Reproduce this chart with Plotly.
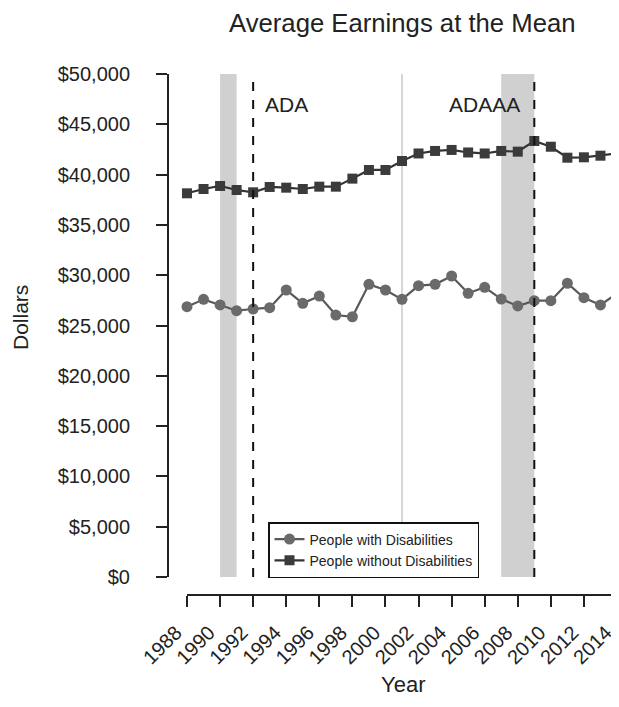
import plotly.graph_objects as go

years = list(range(1988, 2015))
with_dis = [26870, 27600, 27040, 26470, 26640, 26770, 28530, 27200, 27930, 26040,
            25870, 29090, 28530, 27600, 28960, 29090, 29920, 28200, 28800, 27630,
            26940, 27470, 27470, 29200, 27760, 27040, 28200]
without_dis = [38140, 38570, 38870, 38470, 38240, 38770, 38700, 38570, 38800, 38800,
               39600, 40460, 40460, 41350, 42100, 42350, 42450, 42200, 42100, 42350,
               42280, 43340, 42770, 41680, 41720, 41880, 42100]
recessions = [(1990, 1991), (2007, 2009)]
law_years = [1992, 2009]
law_labels = ["ADA", "ADAAA"]
law_label_x = [1994, 2006]
break_year = 2001
y_ticks = list(range(0, 50001, 5000))
y_tick_text = ["$" + format(v, ",") for v in y_ticks]
x_ticks = list(range(1988, 2015, 2))

FONT = "Liberation Sans, Arial, Helvetica, sans-serif"
TXT = "#222222"

# page offset of the figure (body margin)
OFF = 8
L, T = 168 - OFF, 54 - OFF          # plot area left/top in figure coords
B = 595 - OFF                        # plot area bottom in figure coords
W, H = 619, 707
PW, PH = W - L, B - T

def px(xp):  # page x -> paper x
    return (xp - OFF - L) / PW

def py(yp):  # page y -> paper y
    return (B - (yp - OFF)) / PH

fig = go.Figure()
fig.add_trace(go.Scatter(
    x=years, y=with_dis, mode="lines+markers", name="People with Disabilities",
    line=dict(color="#595959", width=2.2),
    marker=dict(symbol="circle", size=11, color="#6a6a6a")))
fig.add_trace(go.Scatter(
    x=years, y=without_dis, mode="lines+markers", name="People without Disabilities",
    line=dict(color="#333333", width=2.2),
    marker=dict(symbol="square", size=10, color="#3b3b3b")))

shapes = []
for a, b in recessions:
    shapes.append(dict(type="rect", xref="x", yref="y", x0=a, x1=b, y0=0, y1=50000,
                       fillcolor="#d0d0d0", line=dict(width=0), layer="below"))
shapes.append(dict(type="line", xref="x", yref="y", x0=break_year, x1=break_year,
                   y0=0, y1=50000, line=dict(color="#c8c8c8", width=1.5), layer="below"))
for ly in law_years:
    shapes.append(dict(type="line", xref="x", yref="y", x0=ly, x1=ly, y0=0, y1=50000,
                       line=dict(color="#111111", width=2, dash="dash"), layer="above"))
# R-style detached axis lines
shapes.append(dict(type="line", xref="paper", yref="y", x0=0, x1=0, y0=0, y1=50000,
                   line=dict(color="#222222", width=2)))
shapes.append(dict(type="line", xref="x", yref="paper", x0=1988, x1=2014, y0=0, y1=0,
                   line=dict(color="#222222", width=2)))

annotations = []
for lab, lx in zip(law_labels, law_label_x):
    annotations.append(dict(x=lx, y=47000, xref="x", yref="y", text=lab, showarrow=False,
                            xanchor="center", yanchor="middle",
                            font=dict(family=FONT, size=21, color=TXT)))
annotations.append(dict(x=px(20), y=py(318), xref="paper", yref="paper",
                        text="Dollars", textangle=-90, showarrow=False,
                        xanchor="center", yanchor="middle",
                        font=dict(family=FONT, size=21, color=TXT)))
annotations.append(dict(x=px(403), y=py(684), xref="paper", yref="paper",
                        text="Year", showarrow=False, xanchor="center", yanchor="middle",
                        font=dict(family=FONT, size=22, color=TXT)))
annotations.append(dict(x=px(402), y=py(23), xref="paper", yref="paper",
                        text="Average Earnings at the Mean", showarrow=False,
                        xanchor="center", yanchor="middle",
                        font=dict(family=FONT, size=25.7, color=TXT)))

fig.update_layout(
    width=W, height=H,
    margin=dict(l=L, r=0, t=T, b=H - B, autoexpand=False),
    plot_bgcolor="white", paper_bgcolor="white",
    showlegend=True,
    legend=dict(x=px(268), y=py(578), xanchor="left", yanchor="bottom",
                bordercolor="#111111", borderwidth=1.5, bgcolor="white",
                font=dict(family=FONT, size=14, color=TXT),
                itemwidth=30, tracegroupgap=0),
    shapes=shapes, annotations=annotations,
    font=dict(family=FONT, color=TXT),
)
px_per_year = (617 - 187) / 26
x_left = 1988 - (187 - 168) / px_per_year
x_right = x_left + PW / px_per_year
px_per_k = (577 - 74) / 50
y_bottom = -(595 - 577) / px_per_k * 1000
y_top = y_bottom + PH / px_per_k * 1000
fig.update_xaxes(range=[x_left, x_right], tickmode="array", tickvals=x_ticks,
                 ticktext=[str(t) for t in x_ticks], tickangle=-45, automargin=False,
                 ticks="outside", ticklen=11, tickwidth=2, tickcolor="#222222",
                 showgrid=False, zeroline=False, showline=False,
                 ticklabelshift=-11, ticklabelstandoff=6,
                 tickfont=dict(family=FONT, size=20, color=TXT))
fig.update_yaxes(range=[y_bottom, y_top], tickmode="array", tickvals=y_ticks,
                 ticktext=y_tick_text, ticks="outside", ticklen=11, tickwidth=2,
                 tickcolor="#222222", showgrid=False, zeroline=False, showline=False,
                 ticklabelstandoff=22, automargin=False,
                 tickfont=dict(family=FONT, size=20, color=TXT))

fig.write_html("out.html")
